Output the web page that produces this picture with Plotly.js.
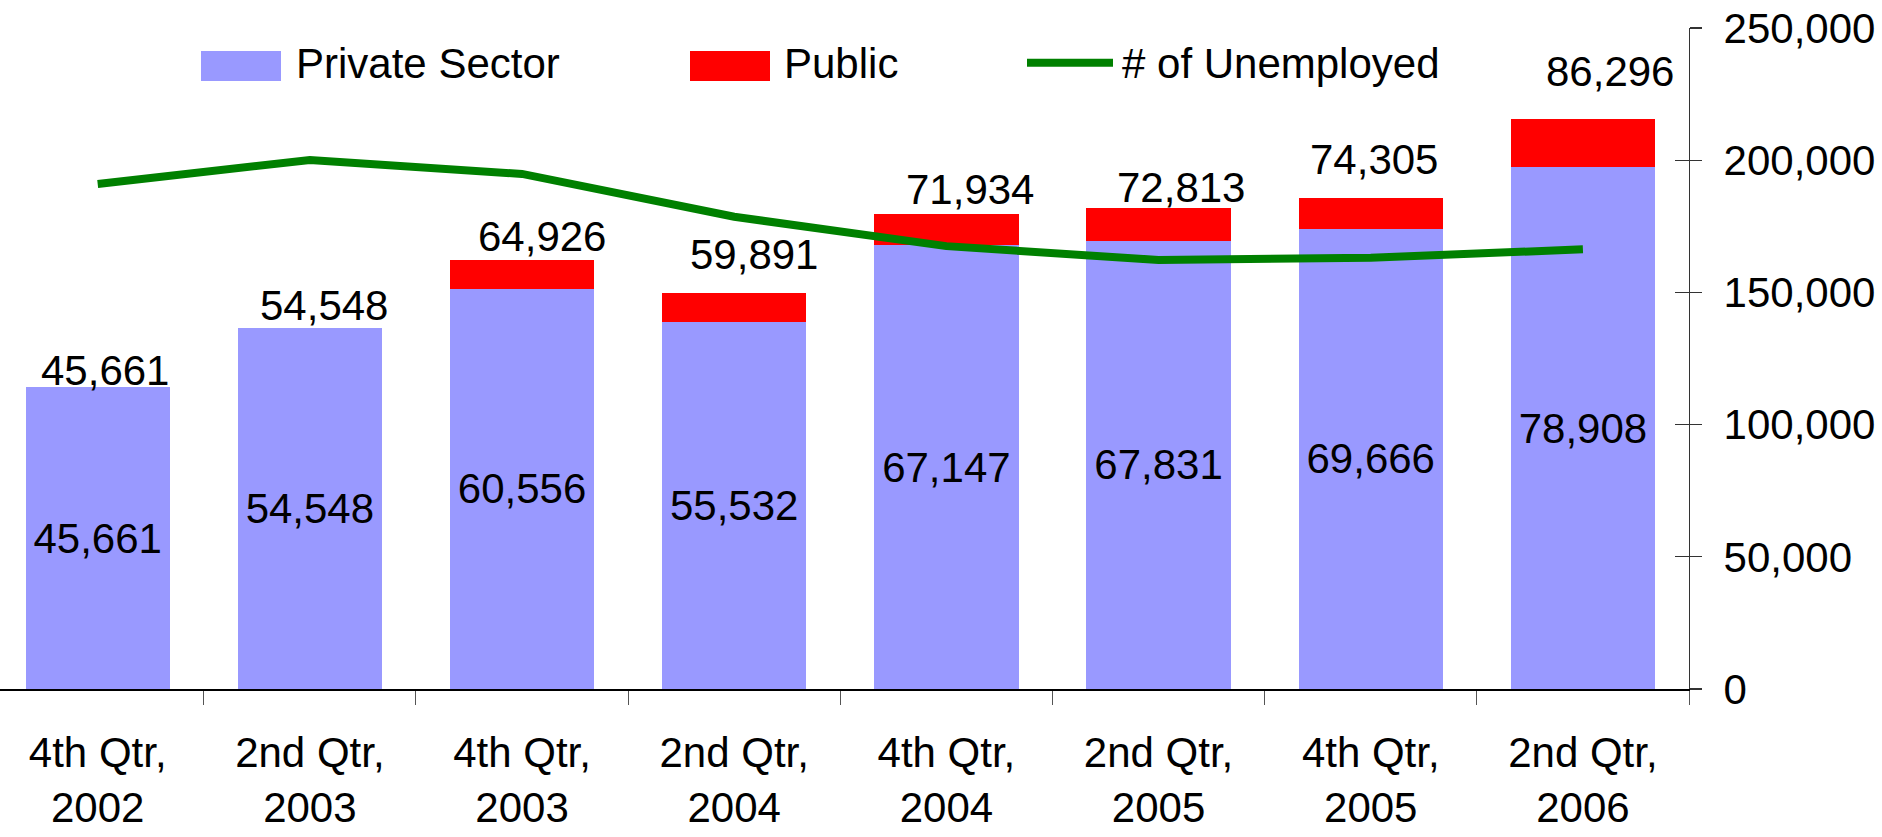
<!DOCTYPE html>
<html>
<head>
<meta charset="utf-8">
<script src="https://cdn.plot.ly/plotly-3.0.1.min.js"></script>
<style>html,body{margin:0;padding:0;background:#fff;}#chart{width:1882px;height:837px;}</style>
</head>
<body>
<div id="chart"></div>
<script>
// ---- data ----
const categories = ["4th Qtr,<br>2002","2nd Qtr,<br>2003","4th Qtr,<br>2003","2nd Qtr,<br>2004","4th Qtr,<br>2004","2nd Qtr,<br>2005","4th Qtr,<br>2005","2nd Qtr,<br>2006"];
const privateSector = [45661, 54548, 60556, 55532, 67147, 67831, 69666, 78908];
const totalJobs = [45661, 54548, 64926, 59891, 71934, 72813, 74305, 86296];
const unemployed = [191000, 200100, 194800, 178600, 167500, 162300, 163100, 166300];
const publicSector = totalJobs.map((t, i) => t - privateSector[i]);

// ---- style / layout constants ----
const FONT = "Liberation Sans, Arial, sans-serif";
const FS = 42;
const W = 1882, H = 837;
const M = {l: 0, r: 193, t: 28, b: 148};
const PW = W - M.l - M.r, PH = H - M.t - M.b;
const px = x => (x - M.l) / PW;
const py = y => (H - M.b - y) / PH;
// small pixel nudges of the total labels as placed in the original
const labelXShift = [7, 14, 20, 20, 24, 22, 3, 27];
const labelYShift = [-9, -3, -2, 13, -1, -5, 13, 22];

const fmt = v => v.toLocaleString("en-US");

const traces = [
  {
    type: "bar", name: "Private Sector", x: categories, y: privateSector,
    marker: {color: "#9999FF"},
    text: privateSector.map(fmt), textposition: "inside", insidetextanchor: "middle",
    constraintext: "none", textfont: {family: FONT, size: FS, color: "#000"},
    textangle: 0, hoverinfo: "x+y", yaxis: "y"
  },
  {
    type: "bar", name: "Public", x: categories, y: publicSector,
    marker: {color: "#FF0000"}, hoverinfo: "x+y", yaxis: "y", textposition: "none"
  },
  {
    type: "scatter", mode: "lines", name: "# of Unemployed", x: categories, y: unemployed,
    line: {color: "#008000", width: 8}, yaxis: "y2"
  }
];

const annotations = totalJobs.map((t, i) => ({
  x: categories[i], y: t, xref: "x", yref: "y", text: fmt(t), showarrow: false,
  xanchor: "center", yanchor: "bottom", xshift: labelXShift[i], yshift: labelYShift[i],
  font: {family: FONT, size: FS, color: "#000"}
}));

// legend (drawn manually to match the original's wide swatches)
const legendItems = [
  {label: "Private Sector", kind: "rect", color: "#9999FF", x0: 201, x1: 281, tx: 294},
  {label: "Public", kind: "rect", color: "#FF0000", x0: 690, x1: 770, tx: 782},
  {label: "# of Unemployed", kind: "line", color: "#008000", x0: 1027, x1: 1113, tx: 1120}
];
const shapes = [];
legendItems.forEach(it => {
  if (it.kind === "rect") {
    shapes.push({type: "rect", xref: "paper", yref: "paper", x0: px(it.x0), x1: px(it.x1),
      y0: py(81), y1: py(51), fillcolor: it.color, line: {width: 0}});
  } else {
    shapes.push({type: "line", xref: "paper", yref: "paper", x0: px(it.x0), x1: px(it.x1),
      y0: py(62.7), y1: py(62.7), line: {color: it.color, width: 8}});
  }
  annotations.push({xref: "paper", yref: "paper", x: px(it.tx), y: py(64), xanchor: "left",
    yanchor: "middle", text: it.label, showarrow: false,
    font: {family: FONT, size: FS, color: "#000"}});
});

const catWidth = 212.2;
const layout = {
  width: W, height: H, margin: M,
  paper_bgcolor: "#fff", plot_bgcolor: "#fff",
  font: {family: FONT, size: FS, color: "#000"},
  showlegend: false, barmode: "stack", bargap: 0.32,
  xaxis: {
    type: "category", range: [-0.5 + 8.4 / catWidth, 7.5],
    showline: true, linecolor: "#000", linewidth: 1.5,
    ticks: "outside", tickson: "boundaries", ticklen: 14, tickcolor: "#555", tickwidth: 1,
    ticklabelstandoff: 26,
    tickfont: {family: FONT, size: FS, color: "#000"}, showgrid: false, zeroline: false,
    tickangle: 0
  },
  yaxis: {range: [0, 100000], visible: false, fixedrange: true},
  yaxis2: {
    overlaying: "y", side: "right", anchor: "x", range: [0, 250000], dtick: 50000,
    tickformat: ",", showline: true, linecolor: "#333", linewidth: 1.2,
    ticks: "outside", ticklen: 12, tickcolor: "#333", tickwidth: 1.2,
    ticklabelstandoff: 13,
    tickfont: {family: FONT, size: FS, color: "#000"}, showgrid: false, zeroline: false
  },
  yaxis3: {
    overlaying: "y", side: "right", anchor: "x", range: [0, 250000], dtick: 50000,
    ticks: "inside", ticklen: 14, tickcolor: "#333", tickwidth: 1.2,
    showticklabels: false, showline: false, showgrid: false, zeroline: false
  },
  annotations: annotations,
  shapes: shapes
};

// helper trace so that yaxis3 (inner tick marks) is drawn
traces.push({type: "scatter", mode: "none", x: [categories[0]], y: [0], yaxis: "y3",
  hoverinfo: "skip", showlegend: false});

Plotly.newPlot("chart", traces, layout, {displayModeBar: false, staticPlot: true});
</script>
</body>
</html>
